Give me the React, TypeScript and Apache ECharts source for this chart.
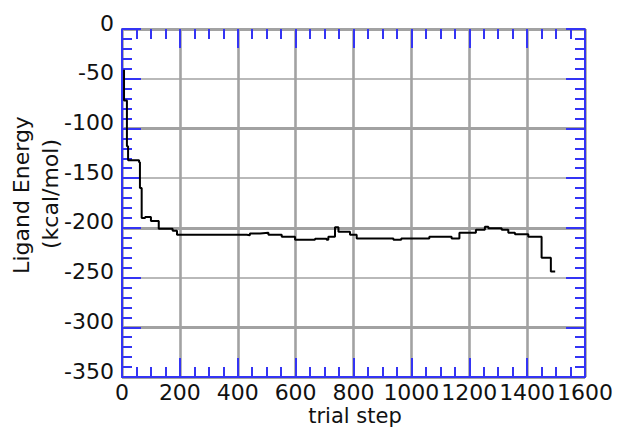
import React, { useEffect, useRef } from "react";
import * as echarts from "echarts";

// trial step at which each energy level starts (step-wise best energy)
const steps: number[] = [
  7, 7, 17, 21, 59, 62, 68, 80, 100, 127, 175, 190, 431, 442, 477, 506, 552, 598, 667, 707,
  713, 736, 748, 788, 811, 938, 965, 1062, 1139, 1166, 1223, 1254, 1266, 1312, 1335, 1358,
  1404, 1450, 1482, 1497,
];
const energies: number[] = [
  -41, -72, -118, -132, -134, -160, -190, -189, -193, -201, -203, -207, -207.5, -205.6, -205,
  -207, -209, -212, -211, -212, -209, -199.5, -204, -207, -210.6, -212, -210.6, -209, -210.6,
  -205, -202, -199, -200.5, -202, -205, -206.5, -209, -230, -244, -244,
];
const xTicks: number[] = [0, 200, 400, 600, 800, 1000, 1200, 1400, 1600];
const yTicks: number[] = [0, -50, -100, -150, -200, -250, -300, -350];
const xTitle = "trial step";
const yTitle1 = "Ligand Energy";
const yTitle2 = "(kcal/mol)";

const BLUE = "#3434f4";
const GRAY = "#a2a2a2";
const FONT = "DejaVu Sans";
const GRID = { left: 122, right: 33, top: 29, bottom: 58, outerBoundsMode: "none" };

export default function App() {
  const ref = useRef<HTMLDivElement>(null);
  useEffect(() => {
    document.body.style.margin = "0";
    if (!ref.current) return;
    const chart = echarts.init(ref.current, undefined, { renderer: "svg" });
    const data = steps.map((s, i) => [s, energies[i]]);
    const xMin = xTicks[0];
    const xMax = xTicks[xTicks.length - 1];
    const yMin = yTicks[yTicks.length - 1];
    const yMax = yTicks[0];

    const tickAxis = (
      kind: "x" | "y",
      gridIndex: number,
      position: string,
      interval: number,
      len: number,
      lineColor: string | null
    ) => ({
      type: "value",
      gridIndex,
      position,
      min: kind === "x" ? xMin : yMin,
      max: kind === "x" ? xMax : yMax,
      interval,
      axisLine: lineColor
        ? { show: true, onZero: false, lineStyle: { color: lineColor, width: 2 } }
        : { show: false, onZero: false },
      axisTick: { show: true, inside: true, length: len, lineStyle: { color: BLUE, width: 2 } },
      axisLabel: { show: false },
      splitLine: { show: false },
    });

    chart.setOption({
      animation: false,
      backgroundColor: "#ffffff",
      grid: [GRID, GRID, GRID, GRID, GRID],
      xAxis: [
        // 0: main bottom axis with labels and grid lines
        {
          type: "value",
          gridIndex: 0,
          position: "bottom",
          min: xMin,
          max: xMax,
          interval: 200,
          axisLine: { show: true, onZero: false, lineStyle: { color: BLUE, width: 2 } },
          axisTick: { show: true, inside: true, length: 19, lineStyle: { color: BLUE, width: 2 } },
          axisLabel: {
            fontFamily: FONT,
            fontSize: 22,
            color: "#111",
            margin: 7,
            lineHeight: 16,
            showMinLabel: true,
            showMaxLabel: true,
            hideOverlap: false,
            formatter: (v: number) => String(v),
          },
          splitLine: { show: true, lineStyle: { color: GRAY, width: 2.6 } },
        },
        // 1: top axis, major ticks
        tickAxis("x", 1, "top", 200, 19, GRAY),
        // 2: bottom minor ticks
        tickAxis("x", 2, "bottom", 50, 10, null),
        // 3: top minor ticks
        tickAxis("x", 3, "top", 50, 10, null),
        // 4: dummy for thick grid
        {
          type: "value",
          gridIndex: 4,
          min: xMin,
          max: xMax,
          axisLine: { show: false, onZero: false },
          axisTick: { show: false },
          axisLabel: { show: false },
          splitLine: { show: false },
        },
      ],
      yAxis: [
        {
          type: "value",
          gridIndex: 0,
          position: "left",
          min: yMin,
          max: yMax,
          interval: 50,
          axisLine: { show: true, onZero: false, lineStyle: { color: BLUE, width: 2 } },
          axisTick: { show: true, inside: true, length: 19, lineStyle: { color: BLUE, width: 2 } },
          axisLabel: {
            fontFamily: FONT,
            fontSize: 22,
            color: "#111",
            margin: 8,
            lineHeight: 12,
            verticalAlign: "bottom",
            showMinLabel: true,
            showMaxLabel: true,
            hideOverlap: false,
          },
          splitLine: { show: true, lineStyle: { color: GRAY, width: 1.6 } },
        },
        tickAxis("y", 1, "right", 50, 19, BLUE),
        tickAxis("y", 2, "left", 10, 10, null),
        tickAxis("y", 3, "right", 10, 10, null),
        {
          type: "value",
          gridIndex: 4,
          position: "left",
          inverse: true,
          min: 0,
          max: -yMin,
          interval: 100,
          axisLine: { show: false, onZero: false },
          axisTick: { show: false },
          axisLabel: { show: false },
          splitLine: { show: true, lineStyle: { color: GRAY, width: 3 } },
        },
      ],
      graphic: [
        {
          type: "text",
          x: 21,
          y: 195,
          rotation: Math.PI / 2,
          style: {
            text: yTitle1,
            fontFamily: FONT,
            fontSize: 22,
            fill: "#111",
            textAlign: "center",
            textVerticalAlign: "middle",
          },
        },
        {
          type: "text",
          x: 50,
          y: 194,
          rotation: Math.PI / 2,
          style: {
            text: yTitle2,
            fontFamily: FONT,
            fontSize: 22,
            fill: "#111",
            textAlign: "center",
            textVerticalAlign: "middle",
          },
        },
        {
          type: "text",
          x: 355,
          y: 416,
          style: {
            text: xTitle,
            fontFamily: FONT,
            fontSize: 21,
            fill: "#111",
            textAlign: "center",
            textVerticalAlign: "middle",
          },
        },
      ],
      series: [
        {
          type: "line",
          xAxisIndex: 0,
          yAxisIndex: 0,
          step: "end",
          data,
          showSymbol: false,
          symbol: "none",
          lineStyle: { color: "#000", width: 2 },
          z: 5,
        },
      ],
    });
    return () => chart.dispose();
  }, []);
  return <div ref={ref} style={{ width: 618, height: 435 }} />;
}
